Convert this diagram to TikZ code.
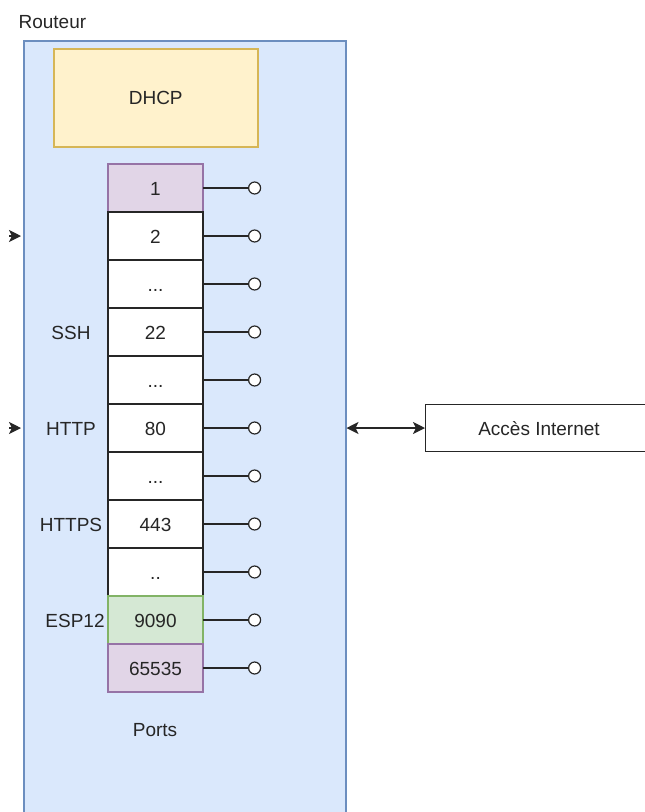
\documentclass[tikz,border=0pt]{standalone}
\usepackage{fontspec}
\setmainfont{Liberation Sans}
\usepackage{xcolor}
\usetikzlibrary{arrows.meta, positioning}

\definecolor{routerfill}{HTML}{DAE8FC}
\definecolor{routerline}{HTML}{6C8EBF}
\definecolor{dhcpfill}{HTML}{FFF2CC}
\definecolor{dhcpline}{HTML}{D6B656}
\definecolor{purplefill}{HTML}{E1D5E7}
\definecolor{purpleline}{HTML}{9673A6}
\definecolor{greenfill}{HTML}{D5E8D4}
\definecolor{greenline}{HTML}{82B366}

\tikzset{
  port/.style={draw, fill=white, minimum width=95pt, minimum height=48pt, outer sep=0pt, inner sep=0pt,
    text height=15pt, text depth=1pt},
  plug/.style={draw, circle, fill=white, minimum size=12pt, inner sep=0pt, line width=1.2pt},
  lbl/.style={inner sep=0pt, text height=15pt, text depth=1pt}
}

\begin{document}
\begin{tikzpicture}[x=1pt, y=-1pt, line width=1.2pt, >={Stealth[length=12pt,width=12pt,inset=3pt]},
  font=\fontsize{19}{22}\selectfont, color=black!85]

\useasboundingbox (0,0) rectangle (645,812);
\clip (0,0) rectangle (645,812);

% Router
\node[draw=routerline, fill=routerfill, line width=1.5pt, anchor=north west, minimum width=322pt, minimum height=800pt] (router) at (23,40) {};
\node[lbl, anchor=west] (routerlbl) at (18,21) {Routeur};

% DHCP
\node[draw=dhcpline, fill=dhcpfill, line width=1.5pt, anchor=north west, minimum width=204pt, minimum height=98pt] (dhcp) at (53,48) {DHCP};

% Ports
\node[port, draw=purpleline, fill=purplefill, anchor=north west] (p1) at (108,164) {1};
\node[port, below=0pt of p1] (p2) {2};
\node[port, below=0pt of p2] (p3) {...};
\node[port, below=0pt of p3] (p4) {22};
\node[port, below=0pt of p4] (p5) {...};
\node[port, below=0pt of p5] (p6) {80};
\node[port, below=0pt of p6] (p7) {...};
\node[port, below=0pt of p7] (p8) {443};
\node[port, below=0pt of p8] (p9) {..};
\node[port, draw=greenline, fill=greenfill, below=0pt of p9] (p10) {9090};
\node[port, draw=purpleline, fill=purplefill, below=0pt of p10] (p11) {65535};
\node[lbl] (portslbl) at (155,729) {Ports};

% Services
\node[lbl] (ssh) at (71,332) {SSH};
\node[lbl] (http) at (71,428) {HTTP};
\node[lbl] (https) at (71,524) {HTTPS};
\node[lbl] (esp) at (75,620) {ESP12};

% Plugs
\node[plug, right=45pt of p1] (c1) {};
\node[plug, right=45pt of p2] (c2) {};
\node[plug, right=45pt of p3] (c3) {};
\node[plug, right=45pt of p4] (c4) {};
\node[plug, right=45pt of p5] (c5) {};
\node[plug, right=45pt of p6] (c6) {};
\node[plug, right=45pt of p7] (c7) {};
\node[plug, right=45pt of p8] (c8) {};
\node[plug, right=45pt of p9] (c9) {};
\node[plug, right=45pt of p10] (c10) {};
\node[plug, right=45pt of p11] (c11) {};

\draw (p1) -- (c1);
\draw (p2) -- (c2);
\draw (p3) -- (c3);
\draw (p4) -- (c4);
\draw (p5) -- (c5);
\draw (p6) -- (c6);
\draw (p7) -- (c7);
\draw (p8) -- (c8);
\draw (p9) -- (c9);
\draw (p10) -- (c10);
\draw (p11) -- (c11);

% Internet
\node[draw, fill=white, anchor=west, minimum width=250pt, minimum height=47pt] (net) at (425,428) {};
\node[lbl] (netlbl) at (539,428) {Accès Internet};
\draw[<->] (router.east |- net.west) -- (net.west);

% Incoming arrows
\coordinate (in1) at (9,236);
\coordinate (in2) at (9,428);
\draw[->, shorten >=2pt] (in1) -- (router.west |- in1);
\draw[->, shorten >=2pt] (in2) -- (router.west |- in2);

\end{tikzpicture}
\end{document}
